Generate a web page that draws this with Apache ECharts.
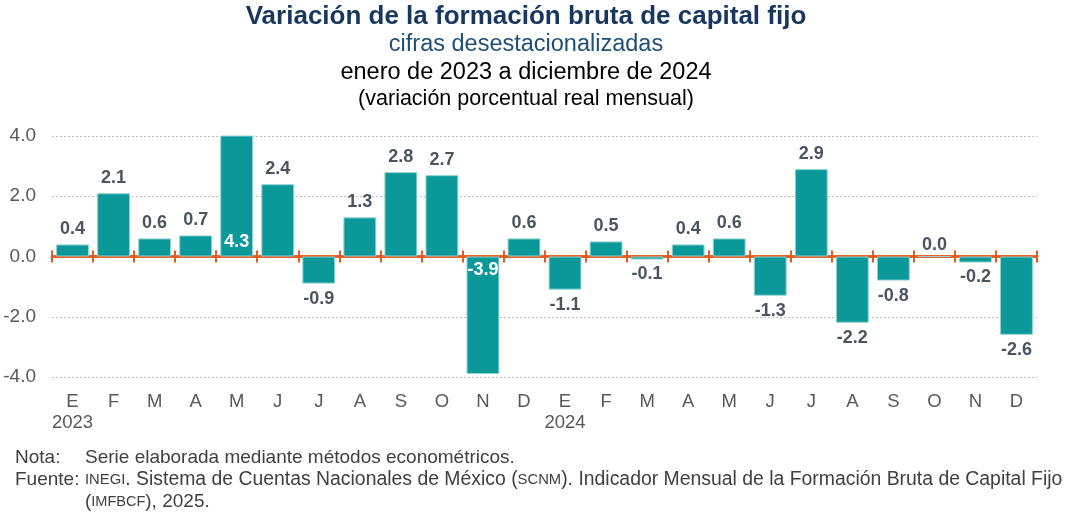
<!DOCTYPE html>
<html><head><meta charset="utf-8">
<script src="https://cdn.jsdelivr.net/npm/echarts@6/dist/echarts.min.js"></script>
<style>html,body{margin:0;padding:0;background:#fff}#c{width:1068px;height:519px}</style>
</head><body><div id="c"></div>
<script>
const months = ["E","F","M","A","M","J","J","A","S","O","N","D","E","F","M","A","M","J","J","A","S","O","N","D"];
const years = {0: "2023", 12: "2024"};
const values = [0.4, 2.1, 0.6, 0.7, 4.3, 2.4, -0.9, 1.3, 2.8, 2.7, -3.9, 0.6, -1.1, 0.5, -0.1, 0.4, 0.6, -1.3, 2.9, -2.2, -0.8, 0.0, -0.2, -2.6];
const yTicks = [-4, -2, 0, 2, 4];
const insideLabelIdx = [4, 10];

const FONT = '"Liberation Sans", Arial, sans-serif';
const chart = echarts.init(document.getElementById('c'), null, {renderer: 'canvas'});
const cats = months.map((m, i) => i);

const barData = values.map((v, i) => {
  const inside = insideLabelIdx.indexOf(i) >= 0;
  return {
    value: v,
    label: inside
      ? {position: v >= 0 ? 'insideBottom' : 'insideTop', color: '#ffffff', distance: 5}
      : {position: v >= 0 ? 'top' : 'bottom', distance: v === 0 ? 2 : 6}
  };
});

const tickAxisBase = {
  type: 'category', data: cats, position: 'bottom',
  axisLabel: {show: false}, splitLine: {show: false}
};
const orange = '#e35b1e';

const option = {
  animation: false,
  textStyle: {fontFamily: FONT},
  grid: {left: 52, right: 31, top: 136, bottom: 142, containLabel: false},
  xAxis: [
    {type: 'category', data: cats, position: 'bottom',
     axisLine: {show: false, onZero: false}, axisTick: {show: false}, splitLine: {show: false},
     axisLabel: {interval: 0, margin: 14, fontFamily: FONT, fontSize: 18.5, color: '#595959', lineHeight: 21,
       formatter: (v, i) => months[i] + (years[i] ? '\n' + years[i] : '')}},
    Object.assign({}, tickAxisBase, {
     axisLine: {show: true, onZero: true, onZeroAxisIndex: 0, lineStyle: {color: orange, width: 2.5}},
     axisTick: {show: true, inside: false, length: 6, lineStyle: {color: orange, width: 2}}}),
    Object.assign({}, tickAxisBase, {
     axisLine: {show: true, onZero: true, onZeroAxisIndex: 1, lineStyle: {color: orange, width: 2.5}},
     axisTick: {show: true, inside: true, length: 6, lineStyle: {color: orange, width: 2}}})
  ],
  yAxis: [
    {type: 'value', min: yTicks[0], max: yTicks[yTicks.length - 1], interval: 2,
     axisLine: {show: false}, axisTick: {show: false},
     axisLabel: {margin: 16, fontFamily: FONT, fontSize: 19, color: '#595959', formatter: v => v.toFixed(1)},
     splitLine: {show: true, lineStyle: {color: '#bfbfbf', type: [2, 2], width: 1}}},
    {type: 'value', min: yTicks[0], max: yTicks[yTicks.length - 1], interval: 2, show: false,
     splitLine: {show: false}}
  ],
  series: [{
    type: 'bar', xAxisIndex: 0, yAxisIndex: 0, data: barData, barCategoryGap: '20%', clip: true, z: 1,
    itemStyle: {color: '#0a9898', borderColor: '#8fd3d3', borderWidth: 1},
    label: {show: true, fontFamily: FONT, fontSize: 18, fontWeight: 'bold', color: '#4b5560',
      formatter: p => p.value.toFixed(1)}
  }],
  graphic: [
    {type: 'text', x: 526, y: 17, style: {text: 'Variación de la formación bruta de capital fijo', align: 'center', verticalAlign: 'middle',
      font: 'bold 26px ' + FONT, fill: '#17375e'}},
    {type: 'text', x: 526, y: 45, style: {text: 'cifras desestacionalizadas', align: 'center', verticalAlign: 'middle',
      font: '23.5px ' + FONT, fill: '#1f4e79'}},
    {type: 'text', x: 526, y: 73, style: {text: 'enero de 2023 a diciembre de 2024', align: 'center', verticalAlign: 'middle',
      font: '23.5px ' + FONT, fill: '#000000'}},
    {type: 'text', x: 526, y: 99, style: {text: '(variación porcentual real mensual)', align: 'center', verticalAlign: 'middle',
      font: '21.5px ' + FONT, fill: '#000000'}},
    {type: 'text', x: 15, y: 458, style: {text: 'Nota:', font: '19px ' + FONT, fill: '#404040', verticalAlign: 'middle'}},
    {type: 'text', x: 85, y: 458, style: {text: 'Serie elaborada mediante métodos econométricos.', font: '19px ' + FONT, fill: '#404040', verticalAlign: 'middle'}},
    {type: 'text', x: 15, y: 480, style: {text: 'Fuente:', font: '19px ' + FONT, fill: '#404040', verticalAlign: 'middle'}},
    {type: 'text', x: 85, y: 480, style: {
      text: '{s|INEGI}. Sistema de Cuentas Nacionales de México ({s|SCNM}). Indicador Mensual de la Formación Bruta de Capital Fijo',
      font: '19.4px ' + FONT, fill: '#404040', verticalAlign: 'middle',
      rich: {s: {fontSize: 14.8, fontFamily: FONT, fill: '#404040'}}}},
    {type: 'text', x: 85, y: 502, style: {
      text: '({s|IMFBCF}), 2025.', font: '19px ' + FONT, fill: '#404040', verticalAlign: 'middle',
      rich: {s: {fontSize: 14.5, fontFamily: FONT, fill: '#404040'}}}}
  ]
};
chart.setOption(option);
</script></body></html>
